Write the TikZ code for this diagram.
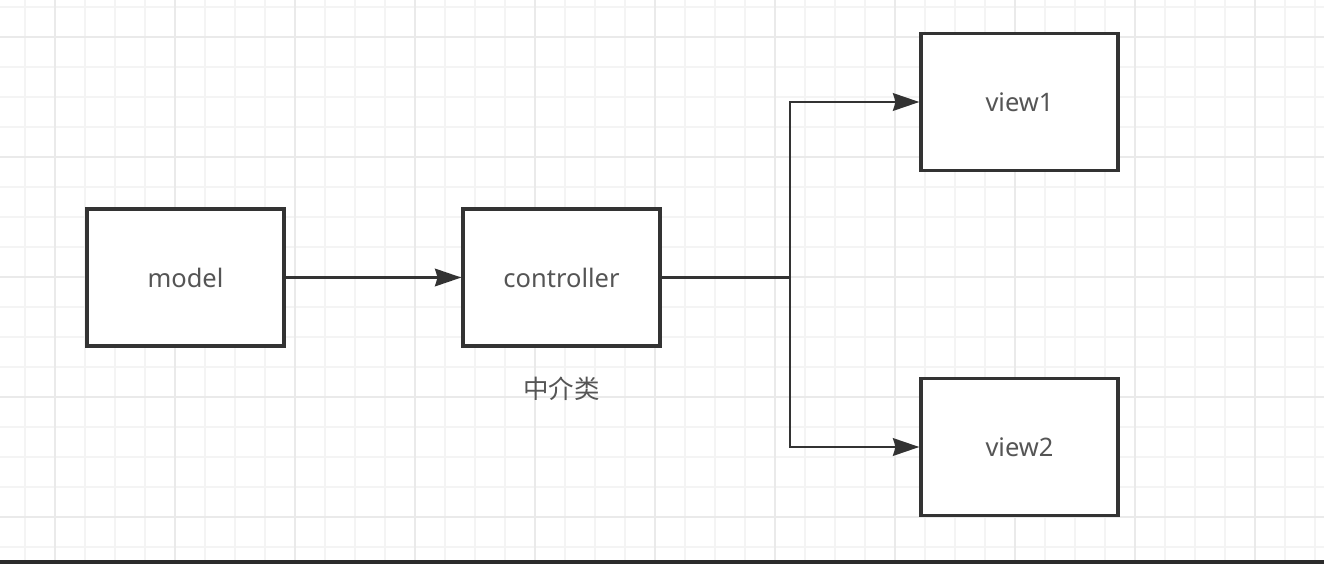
\documentclass[tikz,border=0pt]{standalone}
\usepackage{fontspec}
\setmainfont{Noto Sans}
\newfontfamily\cjk{Noto Sans CJK SC}
\usepackage{tikz}
\usetikzlibrary{arrows.meta,positioning}
\definecolor{inkgray}{HTML}{333333}
\definecolor{textgray}{HTML}{555555}
\definecolor{gridminor}{HTML}{F4F4F4}
\definecolor{gridmajor}{HTML}{EAEAEA}
\tikzset{
  mvcbox/.style={draw=inkgray,line width=1.9pt,fill=white,minimum width=3.94cm,
    minimum height=2.74cm,inner sep=0pt,text=textgray,font=\fontsize{14.5}{17}\selectfont},
  wire/.style={draw=inkgray,line width=1.6pt},
  linkArrow/.style={wire,-{Stealth[length=15pt,width=10pt,inset=1.5pt]}}
}

\begin{document}
\begin{tikzpicture}[x=0.02cm,y=-0.02cm]
  \useasboundingbox (0,0) rectangle (1324,564);
  \fill[white] (0,0) rectangle (1324,564);
  % grid
  \foreach \gx in {25,55,...,1315} \draw[gridminor,line width=0.8pt] (\gx,0) -- (\gx,564);
  \foreach \gy in {7,37,...,557} \draw[gridminor,line width=0.8pt] (0,\gy) -- (1324,\gy);
  \foreach \gx in {55,175,...,1255} \draw[gridmajor,line width=0.8pt] (\gx,0) -- (\gx,564);
  \foreach \gy in {37,157,...,517} \draw[gridmajor,line width=0.8pt] (0,\gy) -- (1324,\gy);
  \fill[inkgray!85!black] (0,560) rectangle (1324,564);

  \node[mvcbox] (model) at (185.5,277.5) {model};
  \node[mvcbox] (controller) at (561.5,277.5) {controller};
  \node[mvcbox] (view1) at (1019.5,102) {view1};
  \node[mvcbox] (view2) at (1019.5,447) {view2};
  \node[text=textgray,font=\cjk\fontsize{14.5}{17}\selectfont] (midlabel) at (561.5,389) {中介类};
  \coordinate (split) at (790,277.5);

  \draw[linkArrow] (model) -- (controller);
  \draw[wire] (controller) -- (split);
  \draw[linkArrow] (split) |- (view1);
  \draw[linkArrow] (split) |- (view2);
\end{tikzpicture}
\end{document}
